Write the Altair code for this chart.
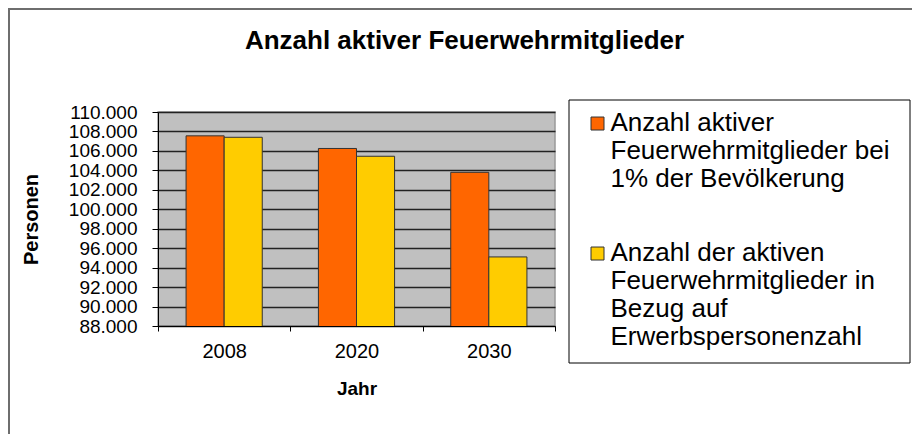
import altair as alt
import pandas as pd

years = ["2008", "2020", "2030"]
series = [
    "Anzahl aktiver Feuerwehrmitglieder bei 1% der Bevölkerung",
    "Anzahl der aktiven Feuerwehrmitglieder in Bezug auf Erwerbspersonenzahl",
]
legend_lines = [
    ["Anzahl aktiver", "Feuerwehrmitglieder bei", "1% der Bevölkerung", ""],
    ["Anzahl der aktiven", "Feuerwehrmitglieder in", "Bezug auf", "Erwerbspersonenzahl"],
]
values_pop = [107550, 106250, 103800]
values_erw = [107400, 105450, 95100]
colors = ["#FF6600", "#FFCC00"]
y_ticks = list(range(88000, 110001, 2000))

rows = []
for i, y in enumerate(years):
    rows.append({"Jahr": y, "Serie": series[0], "Wert": values_pop[i]})
    rows.append({"Jahr": y, "Serie": series[1], "Wert": values_erw[i]})
df = pd.DataFrame(rows)

label_expr = " : ".join(
    f"datum.label == '{s}' ? {legend_lines[i]!r}" for i, s in enumerate(series)
) + " : datum.label"

FONT = "Liberation Sans"

bars = alt.Chart(df).mark_bar(stroke="#333333", strokeWidth=1, clip=True).encode(
    x=alt.X("Jahr:N", sort=years,
            scale=alt.Scale(paddingInner=0, paddingOuter=0),
            axis=alt.Axis(title="Jahr", labelAngle=0, tickBand="extent",
                          tickSize=5, labelPadding=10, titlePadding=18,
                          labelFontSize=20, titleFontSize=19,
                          titleFontWeight="bold", domainColor="#000000",
                          tickColor="#000000", grid=False)),
    xOffset=alt.XOffset("Serie:N", sort=series,
                        scale=alt.Scale(paddingInner=0, paddingOuter=0.737)),
    y=alt.Y("Wert:Q",
            scale=alt.Scale(domain=[88000, 110000], nice=False, zero=False),
            axis=alt.Axis(title="Personen", values=y_ticks,
                          labelExpr="replace(format(datum.value, ',.0f'), ',', '.')",
                          labelOverlap=False,
                          tickSize=6, labelPadding=15, labelFontSize=19,
                          titleFontSize=20, titleFontWeight="bold",
                          titlePadding=27, grid=True, gridColor="#222222",
                          gridWidth=1.4, domainColor="#000000",
                          tickColor="#000000")),
    color=alt.Color("Serie:N", sort=series,
                    scale=alt.Scale(domain=series, range=colors),
                    legend=alt.Legend(title=None, orient="none",
                                      legendX=426.5, legendY=-14.8,
                                      labelExpr=label_expr,
                                      labelFontSize=26, labelLimit=500,
                                      labelBaseline="top",
                                      labelOffset=0,
                                      symbolType="M-1,1.05L1,1.05L1,3.05L-1,3.05Z",
                                      symbolSize=169,
                                      symbolStrokeColor="#333333",
                                      symbolStrokeWidth=1,
                                      symbolOffset=0,
                                      padding=0, rowPadding=7,
                                      labelColor="#000000")),
)

frame = alt.Chart(pd.DataFrame({"k": [0]})).mark_rect(
    fill=None, stroke="#6e6e6e", strokeWidth=2
).encode(
    x=alt.value(-149), x2=alt.value(800),
    y=alt.value(-103), y2=alt.value(340),
)

legend_box = alt.Chart(pd.DataFrame({"k": [0]})).mark_rect(
    fill="#ffffff", stroke="#000000", strokeWidth=1
).encode(
    x=alt.value(411), x2=alt.value(752),
    y=alt.value(-12), y2=alt.value(251),
)

chart = alt.layer(frame, legend_box, bars).properties(
    width=397, height=214,
    autosize=alt.AutoSizeParams(type="none"),
    padding={"left": 150, "top": 104, "right": 357, "bottom": 108},
    title=alt.TitleParams("Anzahl aktiver Feuerwehrmitglieder",
                          fontSize=26, font=FONT, fontWeight="bold",
                          anchor="middle", frame="group", dx=108, offset=0,
                          dy=67, baseline="alphabetic",
                          color="#000000"),
).configure(font=FONT).configure_view(
    fill="#C0C0C0", stroke="#999999", strokeWidth=1.5
).configure_axis(
    labelFont=FONT, titleFont=FONT, labelColor="#000000", titleColor="#000000"
).configure_legend(labelFont=FONT)

chart.save("out.html", embed_options={"renderer": "svg", "actions": False})
